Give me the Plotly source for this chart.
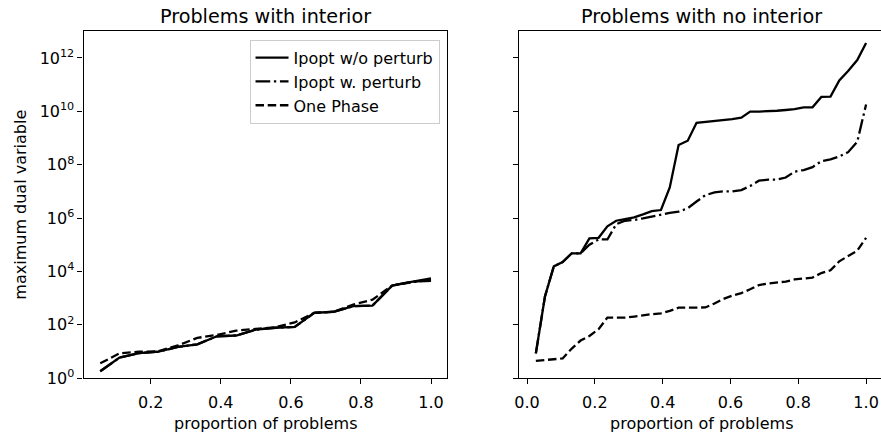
import plotly.graph_objects as go

# ---------------- data ----------------
x_interior = [0.056, 0.111, 0.167, 0.222, 0.278, 0.333, 0.389, 0.444, 0.5,
              0.556, 0.611, 0.667, 0.722, 0.778, 0.833, 0.889, 0.944, 1.0]

interior_no_perturb = [1.82, 5.9, 8.7, 9.8, 14.8, 18.6, 37.2, 39.8, 66,
                       77.6, 83.2, 282, 309, 501, 525, 2950, 4070, 5500]
interior_perturb = [1.82, 5.9, 8.7, 9.8, 14.8, 18.6, 37.2, 39.8, 66,
                    77.6, 83.2, 282, 309, 501, 525, 2950, 4070, 4470]
interior_one_phase = [3.6, 8.5, 9.8, 10.2, 17, 32.4, 41.7, 60.3, 70.8,
                      81.3, 123, 282, 309, 575, 871, 2950, 3890, 5010]

x_no_interior = [0.026, 0.053, 0.079, 0.105, 0.132, 0.158, 0.184, 0.211, 0.237,
                 0.263, 0.289, 0.316, 0.342, 0.368, 0.395, 0.421, 0.447, 0.474,
                 0.5, 0.526, 0.553, 0.579, 0.605, 0.632, 0.658, 0.684, 0.711,
                 0.737, 0.763, 0.789, 0.816, 0.842, 0.868, 0.895, 0.921, 0.947,
                 0.974, 1.0]

no_interior_no_perturb = [8.51, 1170, 15500, 22400, 47900, 47900, 174000, 182000,
                          490000, 794000, 912000, 1.07e6, 1.38e6, 1.82e6, 2.0e6,
                          1.41e7, 5.5e8, 7.94e8, 3.72e9, 3.98e9, 4.27e9, 4.57e9,
                          5.13e9, 5.75e9, 9.77e9, 9.77e9, 1.0e10, 1.05e10, 1.12e10,
                          1.2e10, 1.41e10, 1.41e10, 3.47e10, 3.55e10, 1.45e11,
                          3.24e11, 8.32e11, 3.63e12]
no_interior_perturb = [8.51, 1170, 15500, 22400, 47900, 47900, 100000, 158000,
                       158000, 589000, 794000, 851000, 977000, 1.15e6, 1.32e6,
                       1.58e6, 1.74e6, 2.34e6, 4.17e6, 7.24e6, 9.12e6, 1.0e7,
                       1.0e7, 1.12e7, 1.58e7, 2.51e7, 2.75e7, 2.75e7, 3.31e7,
                       5.5e7, 6.31e7, 8.13e7, 1.35e8, 1.58e8, 2.04e8, 2.95e8,
                       7.24e8, 1.82e10]
no_interior_one_phase = [4.47, 4.79, 5.25, 5.5, 12.9, 25.7, 38.0, 69.2, 186, 186,
                         186, 204, 229, 251, 269, 331, 437, 437, 437, 447, 631,
                         933, 1230, 1550, 2140, 3090, 3550, 3800, 4170, 5010, 5620,
                         5890, 8710, 11000, 24000, 38900, 60300, 182000]

series_names = ["Ipopt w/o perturb", "Ipopt w. perturb", "One Phase"]
x_ticks_left = [0.2, 0.4, 0.6, 0.8, 1.0]
x_ticks_right = [0.0, 0.2, 0.4, 0.6, 0.8, 1.0]
y_tick_vals = [1e0, 1e2, 1e4, 1e6, 1e8, 1e10, 1e12]
y_tick_text = ["10<sup>0</sup>", "10<sup>2</sup>", "10<sup>4</sup>", "10<sup>6</sup>",
               "10<sup>8</sup>", "10<sup>10</sup>", "10<sup>12</sup>"]
titles = ["Problems with interior", "Problems with no interior"]
x_label = "proportion of problems"
y_label = "maximum dual variable"

# ---------------- styling ----------------
W, H = 881, 439
FONT = "DejaVu Sans"
FS = 16
LW = 2.3
dashes = ["solid", "14.7px,3.7px,2.3px,3.7px", "8.5px,3.7px"]

fig = go.Figure()

left_series = [interior_no_perturb, interior_perturb, interior_one_phase]
right_series = [no_interior_no_perturb, no_interior_perturb, no_interior_one_phase]

for name, ys, d in zip(series_names, left_series, dashes):
    fig.add_trace(go.Scatter(x=x_interior, y=ys, mode="lines", name=name,
                             line=dict(color="black", width=LW, dash=d),
                             xaxis="x", yaxis="y"))
for name, ys, d in zip(series_names, right_series, dashes):
    fig.add_trace(go.Scatter(x=x_no_interior, y=ys, mode="lines", name=name,
                             line=dict(color="black", width=LW, dash=d),
                             xaxis="x2", yaxis="y2", showlegend=False))

ax_common = dict(showline=True, linecolor="black", linewidth=1.2,
                 ticks="outside", ticklen=5, tickwidth=1.2, tickcolor="black",
                 showgrid=False, zeroline=False,
                 tickfont=dict(family=FONT, size=FS, color="black"))

y_dom = [1 - 387 / H, 1 - 32 / H]

fig.update_layout(
    width=W, height=H,
    margin=dict(l=0, r=0, t=0, b=0),
    paper_bgcolor="white", plot_bgcolor="white",
    font=dict(family=FONT, size=FS, color="black"),
    xaxis=dict(domain=[79 / W, 445 / W], range=[0.0083, 1.047], anchor="y",
               tickvals=x_ticks_left, ticktext=[f"{v:.1f}" for v in x_ticks_left],
               mirror=True, ticklabelstandoff=5, **ax_common),
    yaxis=dict(domain=y_dom, type="log", range=[0, 13], anchor="x",
               tickvals=y_tick_vals, ticktext=y_tick_text, mirror=True, **ax_common),
    xaxis2=dict(domain=[517.3 / W, 1.0], range=[-0.0226, 1.044], anchor="y2",
                tickvals=x_ticks_right, ticktext=[f"{v:.1f}" for v in x_ticks_right],
                mirror=True, ticklabelstandoff=5, **ax_common),
    yaxis2=dict(domain=y_dom, type="log", range=[0, 13], anchor="x2",
                tickvals=y_tick_vals, showticklabels=False, mirror=False, **ax_common),
    legend=dict(x=437 / W, y=1 - 40.7 / H, xanchor="right", yanchor="top",
                bgcolor="white", bordercolor="#cccccc", borderwidth=1,
                itemwidth=33,
                font=dict(family=FONT, size=FS, color="black")),
    showlegend=True,
)

ann = []
for t, cx in zip(titles, [262, 700]):
    ann.append(dict(text=t, x=cx / W, y=1 - 17 / H, xref="paper", yref="paper",
                    xanchor="center", yanchor="middle", showarrow=False,
                    font=dict(family=FONT, size=19.2, color="black")))
    ann.append(dict(text=x_label, x=cx / W, y=1 - 433 / H, xref="paper", yref="paper",
                    xanchor="center", yanchor="middle", showarrow=False,
                    font=dict(family=FONT, size=FS, color="black")))
ann.append(dict(text=y_label, x=16 / W, y=1 - 209.5 / H, xref="paper", yref="paper",
                xanchor="center", yanchor="middle", showarrow=False, textangle=-90,
                font=dict(family=FONT, size=FS, color="black")))
fig.update_layout(annotations=ann)

fig.write_html("out.html",
               config={"displayModeBar": False},
               post_script="document.body.style.margin='0';"
                           "document.body.style.overflow='hidden';")
